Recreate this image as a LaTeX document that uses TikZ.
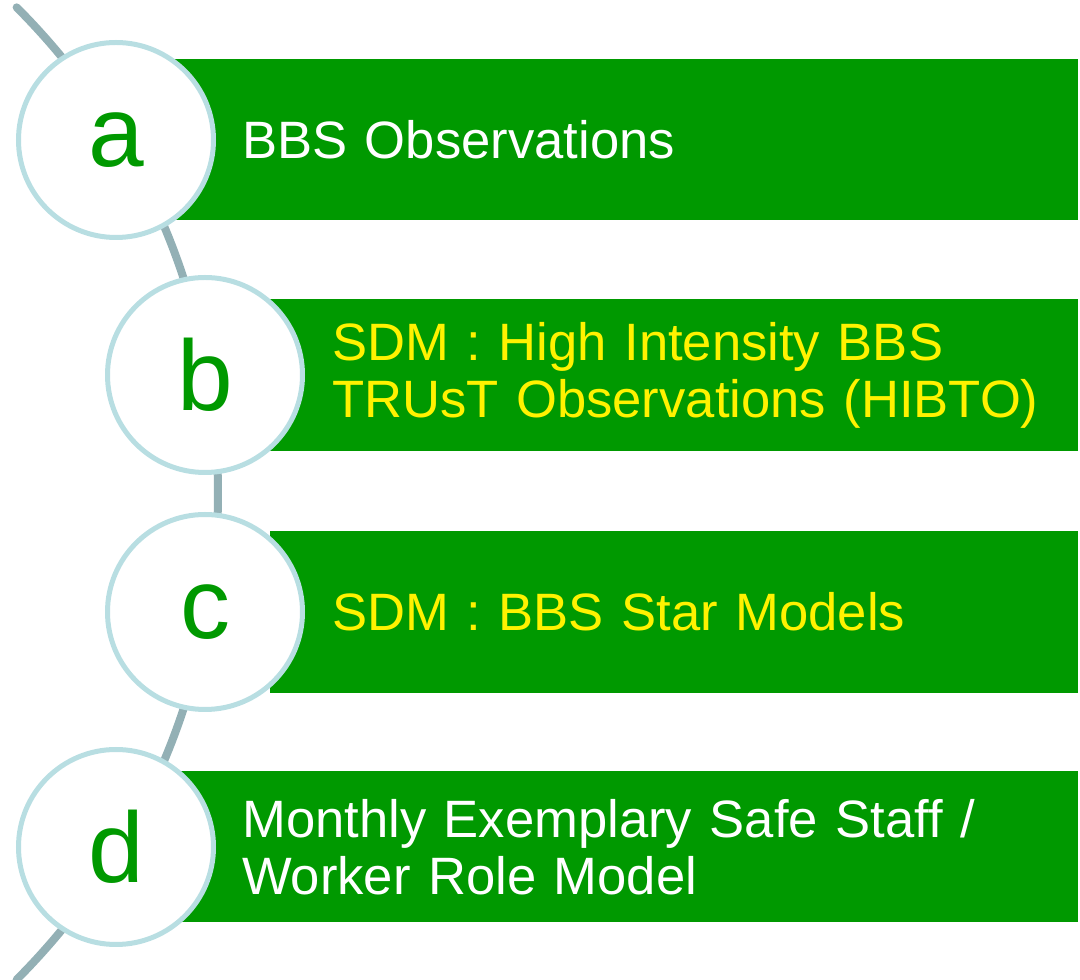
\documentclass[tikz,border=0pt]{standalone}
\usepackage{fontspec}
\setmainfont{Liberation Sans}
\usepackage{tikz}
\usetikzlibrary{positioning}
\definecolor{barGreen}{HTML}{009900}
\definecolor{ringBlue}{HTML}{B8DEE2}
\definecolor{spineGray}{HTML}{93B0B5}
\pgfdeclarelayer{background}
\pgfsetlayers{background,main}

\begin{document}
\begin{tikzpicture}[x=1pt,y=1pt,
   letter/.style={circle,draw=ringBlue,line width=5pt,fill=white,minimum size=195pt,
                  inner sep=0pt,text=barGreen,font=\fontsize{100}{110}\selectfont},
   bar/.style={rectangle,fill=barGreen,anchor=west,align=left,
               font=\fontsize{52.6}{57}\selectfont},
   wide/.style={bar,inner xsep=72pt,text width=764pt},
   narrow/.style={bar,inner xsep=62pt,text width=684pt}]
   \useasboundingbox (0,0) rectangle (1080,980);
   \node[letter] (c_a) at (116,840) {a};
   \node[letter] (c_b) at (205,605) {b};
   \node[letter] (c_c) at (205,368) {c};
   \node[letter] (c_d) at (116,133) {d};
   \begin{pgfonlayer}{background}
   \draw[spineGray,line width=8pt,line cap=round]
      (-469.5,486.5) ++(45:687.5) arc[start angle=45,end angle=-45,radius=687.5];
   \node[wide,minimum height=161pt,text=white] (b_a) [right=-46pt of c_a]
      {BBS Observations};
   \node[narrow,minimum height=152pt,text=yellow] (b_b) [right=-35pt of c_b]
      {SDM : High Intensity BBS\\\mbox{TRUsT Observations (HIBTO)}};
   \node[narrow,minimum height=162pt,text=yellow] (b_c) [right=-35pt of c_c]
      {SDM : BBS Star Models};
   \node[wide,minimum height=151pt,text=white] (b_d) [right=-46pt of c_d]
      {Monthly Exemplary Safe Staff /\\Worker Role Model};
   \end{pgfonlayer}
\end{tikzpicture}
\end{document}
